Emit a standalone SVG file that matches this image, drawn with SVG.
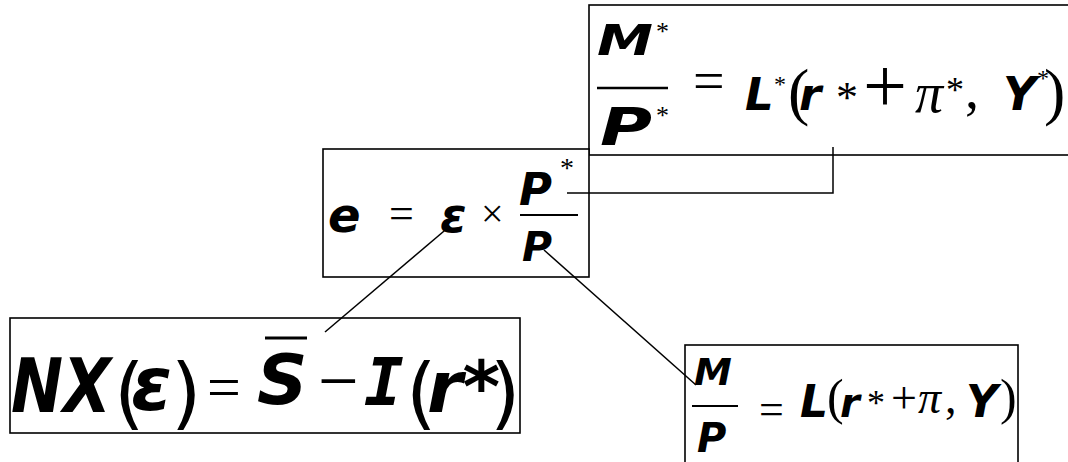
<svg xmlns="http://www.w3.org/2000/svg" width="1068" height="462" viewBox="0 0 1068 462">
<style>
.box{fill:#fff;stroke:#000;stroke-width:1.6}
.ln{fill:none;stroke:#000;stroke-width:1.5}
.bar{stroke:#000;fill:none}
.v{font-family:"DejaVu Sans",Verdana,sans-serif;font-weight:bold;font-style:italic;fill:#000}
.vr{font-family:"DejaVu Sans",Verdana,sans-serif;fill:#000}
.vm{font-family:"DejaVu Sans Mono",monospace;font-weight:bold;font-style:italic;fill:#000}
.t{font-family:"Liberation Serif","Times New Roman",serif;fill:#000}
.ti{font-family:"Liberation Serif","Times New Roman",serif;font-style:italic;fill:#000}
</style>
<rect width="1068" height="462" fill="#fff"/>
<g id="foreign-money">
<rect class="box" x="589" y="5" width="490" height="150"/>
<text class="v" x="597" y="55" font-size="42" textLength="56" lengthAdjust="spacingAndGlyphs">M</text>
<text class="t" x="656" y="40" font-size="26">*</text>
<line class="bar" x1="597" y1="88" x2="668" y2="88" stroke-width="2.5"/>
<text class="v" x="600" y="145" font-size="52" textLength="52" lengthAdjust="spacingAndGlyphs">P</text>
<text class="t" x="656" y="124" font-size="26">*</text>
<text y="110"><tspan class="t" x="693" y="100" font-size="56">=</tspan><tspan class="v" x="745" y="110" font-size="45">L</tspan><tspan class="t" x="774" y="92" font-size="24">*</tspan><tspan class="t" x="788" y="113" font-size="64">(</tspan><tspan class="v" x="799" y="110" font-size="45">r</tspan><tspan class="t" x="836" y="112" font-size="44">*</tspan><tspan class="t" x="863" y="112" font-size="78">+</tspan><tspan class="ti" x="915" y="112" font-size="56">π</tspan><tspan class="t" x="946" y="102" font-size="36">*</tspan><tspan class="t" x="965" y="108" font-size="56">,</tspan><tspan class="v" x="1003" y="110" font-size="46">Y</tspan><tspan class="t" x="1037" y="86" font-size="24">*</tspan><tspan class="t" x="1044" y="113" font-size="64">)</tspan></text>
</g>
<g id="exchange-rate">
<rect class="box" x="323" y="149" width="266" height="128"/>
<text y="232"><tspan class="v" x="328" y="232" font-size="48">e</tspan><tspan class="t" x="389" y="228" font-size="44">=</tspan><tspan class="v" x="440" y="232" font-size="48">ε</tspan><tspan class="t" x="481" y="227" font-size="40">×</tspan></text>
<text class="v" x="519" y="205" font-size="45">P</text>
<text class="t" x="560" y="177" font-size="28">*</text>
<line class="bar" x1="520" y1="215" x2="578" y2="215" stroke-width="2"/>
<text class="v" x="522" y="261" font-size="41">P</text>
</g>
<g id="net-exports">
<rect class="box" x="10" y="318" width="510" height="115"/>
<line class="bar" x1="265" y1="338" x2="307" y2="338" stroke-width="3"/>
<text class="v" x="11" y="412" font-size="74" textLength="100" lengthAdjust="spacingAndGlyphs">NX</text>
<text y="412"><tspan class="vr" x="114" y="420" font-size="78">(</tspan><tspan class="v" x="131" y="410" font-size="74">ε</tspan><tspan class="vr" x="171" y="420" font-size="78">)</tspan><tspan class="t" x="207" y="407" font-size="60">=</tspan><tspan class="v" x="257" y="404" font-size="70">S</tspan><tspan class="t" x="318" y="405" font-size="72">−</tspan><tspan class="vm" x="364" y="405" font-size="66">I</tspan><tspan class="vr" x="406" y="420" font-size="78">(</tspan><tspan class="v" x="427" y="412" font-size="72">r*</tspan><tspan class="vr" x="490" y="420" font-size="78">)</tspan></text>
</g>
<g id="home-money">
<rect class="box" x="685" y="345" width="333" height="130"/>
<text class="v" x="694" y="385" font-size="38">M</text>
<line class="bar" x1="692" y1="406" x2="738" y2="406" stroke-width="2"/>
<text class="v" x="697" y="452" font-size="40">P</text>
<text y="417"><tspan class="t" x="759" y="424" font-size="44">=</tspan><tspan class="v" x="800" y="417" font-size="44">L</tspan><tspan class="t" x="827" y="414" font-size="50">(</tspan><tspan class="v" x="840" y="417" font-size="40">r</tspan><tspan class="t" x="867" y="415" font-size="36">*</tspan><tspan class="t" x="891" y="413" font-size="46">+</tspan><tspan class="ti" x="918" y="413" font-size="46">π</tspan><tspan class="t" x="945" y="413" font-size="46">,</tspan><tspan class="v" x="966" y="417" font-size="44">Y</tspan><tspan class="t" x="1000" y="414" font-size="50">)</tspan></text>
</g>
<g id="connectors">
<polyline class="ln" points="567,193 833,193 833,147"/>
<line class="ln" x1="450" y1="226" x2="325" y2="332"/>
<line class="ln" x1="544" y1="250" x2="696" y2="385"/>
</g>
</svg>
